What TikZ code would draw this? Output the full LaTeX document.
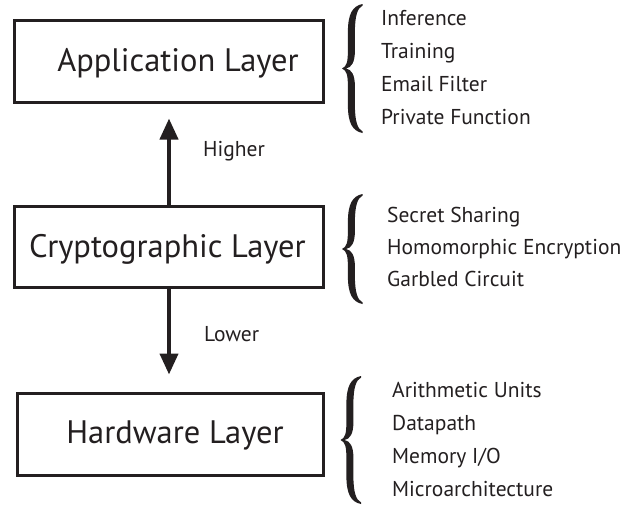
\documentclass[tikz,border=0pt]{standalone}
\usepackage{fontspec}
\setmainfont{PT Sans}
\usetikzlibrary{arrows.meta}
\definecolor{ink}{RGB}{35,31,32}

% Filled curly brace: #1 = stem centre x, #2 = top y, #3 = bottom y
\newcommand{\curlybrace}[3]{%
  \pgfmathsetmacro\ymid{(#2+#3)/2}%
  \fill[ink] (#1+11,#2) .. controls (#1+1,#2+2) and (#1-3.6,#2+10) .. (#1-3.6,#2+28)
    -- (#1-3.6,\ymid-18) .. controls (#1-3.6,\ymid-6) and (#1-5,\ymid-2) .. (#1-9.5,\ymid)
    .. controls (#1-5,\ymid+2) and (#1-3.6,\ymid+6) .. (#1-3.6,\ymid+18)
    -- (#1-3.6,#3-28) .. controls (#1-3.6,#3-10) and (#1+1,#3-2) .. (#1+11,#3)
    -- (#1+11,#3-1.6) .. controls (#1+6,#3-4) and (#1+3.4,#3-12) .. (#1+3.4,#3-28)
    -- (#1+3.4,\ymid+18) .. controls (#1+3.4,\ymid+6) and (#1+0,\ymid+1) .. (#1-5.5,\ymid)
    .. controls (#1+0,\ymid-1) and (#1+3.4,\ymid-6) .. (#1+3.4,\ymid-18)
    -- (#1+3.4,#2+28) .. controls (#1+3.4,#2+12) and (#1+6,#2+4) .. (#1+11,#2+1.6) -- cycle;}

\tikzset{
  layerbox/.style={draw=ink, line width=3pt, inner sep=0pt},
  layerlabel/.style={text=ink, inner sep=0pt, anchor=base, font=\fontsize{32.5}{38}\selectfont},
  item/.style={text=ink, inner sep=0pt, anchor=base west, font=\fontsize{21.5}{25}\selectfont},
  updown/.style={draw=ink, line width=4pt, -{Triangle[length=21pt,width=18pt]}},
}

\begin{document}
\begin{tikzpicture}[x=1pt,y=-1pt]
\useasboundingbox (0,0) rectangle (629,507);

% the three layers
\node[layerbox, minimum width=309pt, minimum height=82pt] (app) at (169,61.5) {};
\node[layerbox, minimum width=309pt, minimum height=81pt] (crypto) at (169,247) {};
\node[layerbox, minimum width=306pt, minimum height=82pt] (hw) at (170.5,434.5) {};

\node[layerlabel] (applabel) at (178,71) {Application Layer};
\node[layerlabel] (cryptolabel) at (167.5,257) {Cryptographic Layer};
\node[layerlabel] (hwlabel) at (175,443) {Hardware Layer};

% arrows between layers
\path (app.south) ++(0,14.5) coordinate (apptip);
\path (crypto.south |- hw.north) ++(0,-17.5) coordinate (hwtip);
\draw[updown] (crypto.north) -- (apptip);
\draw[updown] (crypto.south) -- (hwtip);
\node[item] (higher) at (203,156) {Higher};
\node[item] (lower) at (204,341) {Lower};

% braces
\curlybrace{351.5}{4}{133}
\curlybrace{351.5}{194}{304}
\curlybrace{350}{376}{504}

% application examples
\node[item] (inf) at (381,25) {Inference};
\node[item] (train) at (381,58) {Training};
\node[item] (email) at (381,91) {Email Filter};
\node[item] (pf) at (381,124) {Private Function};

% cryptographic primitives
\node[item] (ss) at (387,222) {Secret Sharing};
\node[item] (he) at (387,254) {Homomorphic Encryption};
\node[item] (gc) at (387,286) {Garbled Circuit};

% hardware aspects
\node[item] (au) at (392,397) {Arithmetic Units};
\node[item] (dp) at (392,430) {Datapath};
\node[item] (mem) at (392,463) {Memory I/O};
\node[item] (ma) at (392,496) {Microarchitecture};
\end{tikzpicture}
\end{document}
